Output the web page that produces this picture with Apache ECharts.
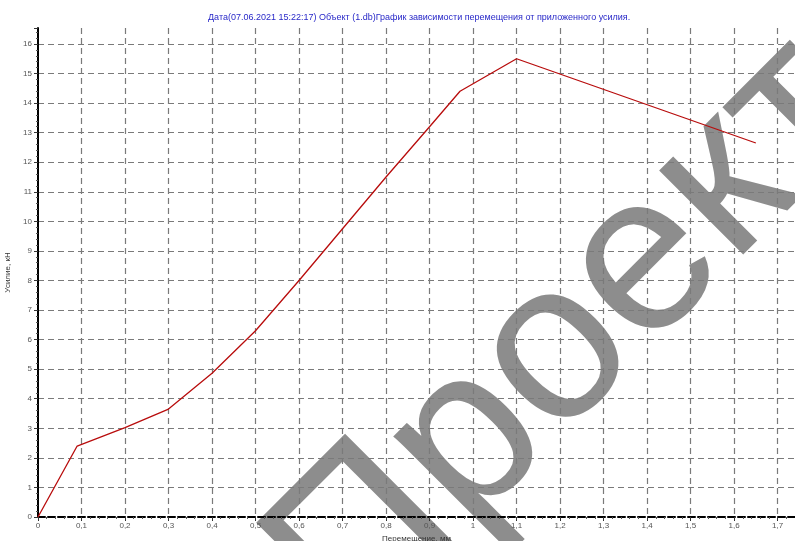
<!DOCTYPE html>
<html>
<head>
<meta charset="utf-8">
<script src="https://cdn.jsdelivr.net/npm/echarts@6/dist/echarts.min.js"></script>
<style>html,body{margin:0;padding:0;background:#fff}#c{width:795px;height:541px}</style>
</head>
<body>
<div id="c"></div>
<script>
var titleText = 'Дата(07.06.2021 15:22:17) Объект (1.db)График зависимости перемещения от приложенного усилия.';
var xName = 'Перемещение, мм';
var yName = 'Усилие, кН';
var watermark = 'Проект';
var displacement = [0, 0.09, 0.2, 0.3, 0.4, 0.5, 0.6, 0.7, 0.8, 0.9, 0.97, 1.1, 1.65];
var force = [0, 2.4, 3.02, 3.65, 4.86, 6.3, 8.0, 9.75, 11.5, 13.2, 14.4, 15.5, 12.65];

var data = displacement.map(function (x, i) { return [x, force[i]]; });
var chart = echarts.init(document.getElementById('c'), null, {renderer: 'canvas'});
var fontFam = 'Liberation Sans, Arial, sans-serif';
var gridLine = {show: true, showMinLine: false, showMaxLine: false, lineStyle: {color: '#7a7a7a', type: [6, 4], width: 1.2}};
var wmSize = 225;
chart.setOption({
  animation: false,
  backgroundColor: '#ffffff',
  title: {
    text: titleText, left: 203, top: 8,
    textStyle: {fontSize: 9, fontWeight: 'normal', color: '#2828c8', fontFamily: fontFam}
  },
  grid: {left: 38, right: 0, top: 28, bottom: 24, containLabel: false, outerBoundsMode: 'none'},
  xAxis: {
    type: 'value', min: 0, max: 1.74, interval: 0.1,
    name: xName, nameLocation: 'middle', nameGap: 16,
    nameTextStyle: {fontSize: 8, color: '#333', fontFamily: fontFam},
    axisLine: {show: true, onZero: false, lineStyle: {color: '#000', width: 2, type: [7, 3]}},
    axisTick: {show: true, length: 4, lineStyle: {color: '#333'}},
    minorTick: {show: true, splitNumber: 5, length: 2, lineStyle: {color: '#555'}},
    axisLabel: {
      fontSize: 8, color: '#555', fontFamily: fontFam, margin: 5, showMaxLabel: false,
      formatter: function (v) { return String(Math.round(v * 10) / 10).replace('.', ','); }
    },
    splitLine: gridLine
  },
  yAxis: {
    type: 'value', min: 0, max: 16.54, interval: 1,
    name: yName, nameLocation: 'middle', nameGap: 25, nameRotate: 90,
    nameTextStyle: {fontSize: 8, color: '#333', fontFamily: fontFam},
    axisLine: {show: true, onZero: false, lineStyle: {color: '#000', width: 2}},
    axisTick: {show: true, length: 4, lineStyle: {color: '#333'}},
    minorTick: {show: true, splitNumber: 5, length: 2, lineStyle: {color: '#555'}},
    axisLabel: {fontSize: 8, color: '#555', fontFamily: fontFam, margin: 6, showMaxLabel: false},
    splitLine: gridLine
  },
  series: [{
    type: 'line', data: data, showSymbol: false, smooth: false,
    lineStyle: {color: '#b80c0c', width: 1.3}, z: 5
  }],
  graphic: [{
    type: 'group', x: 556, y: 354, rotation: 45 * Math.PI / 180, z: -1, silent: true,
    children: [{
      type: 'text', z: -1,
      style: {
        text: watermark, x: -1.554 * wmSize, y: 0, align: 'left', verticalAlign: 'middle',
        font: wmSize + 'px Liberation Sans', fill: 'rgba(112,112,112,0.8)'
      }
    }]
  }]
});
</script>
</body>
</html>
